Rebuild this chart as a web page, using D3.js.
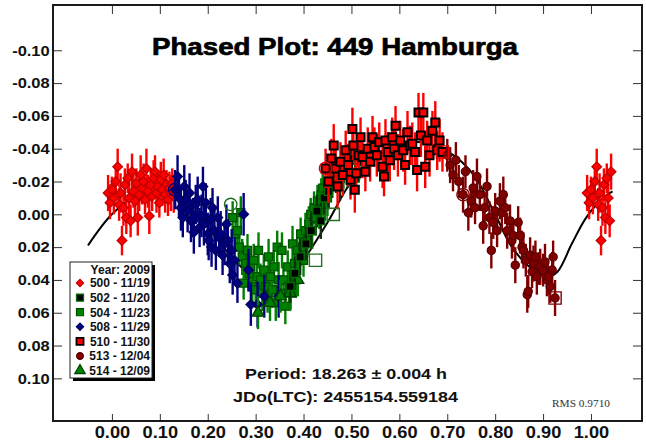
<!DOCTYPE html>
<html><head><meta charset="utf-8">
<script src="https://cdn.jsdelivr.net/npm/d3@7/dist/d3.min.js"></script>
<style>
body{margin:0;background:#fff}
svg{display:block}
text{font-family:"Liberation Sans",Arial,sans-serif}
</style>
</head><body>
<svg id="c" width="646" height="445"></svg>
<script>
// ---------- data ----------
const titleText = "Phased Plot: 449 Hamburga";
const periodText = "Period: 18.263 \u00B1 0.004 h";
const epochText = "JDo(LTC): 2455154.559184";
const rmsText = "RMS 0.9710";
const legendTitle = "Year: 2009";

const xTicks = [0.0,0.1,0.2,0.3,0.4,0.5,0.6,0.7,0.8,0.9,1.0];
const xTickLabels = ["0.00","0.10","0.20","0.30","0.40","0.50","0.60","0.70","0.80","0.90","1.00"];
const yTicks = [-0.10,-0.08,-0.06,-0.04,-0.02,0.00,0.02,0.04,0.06,0.08,0.10];
const yTickLabels = ["-0.10","-0.08","-0.06","-0.04","-0.02","0.00","0.02","0.04","0.06","0.08","0.10"];

const sessionKeys = ["500","502","504","508","510","513","514"];
const sessionLabels = ["500 - 11/19","502 - 11/20","504 - 11/23","508 - 11/29","510 - 11/30","513 - 12/04","514 - 12/09"];

// session 500 (11/19)
const s500Phase = [-0.008,-0.004,0.000,0.004,0.008,0.012,0.015,0.018,0.021,0.024,0.027,0.030,0.033,0.036,0.039,0.042,0.045,0.048,0.051,0.054,0.057,0.060,0.063,0.066,0.069,0.072,0.075,0.078,0.081,0.084,0.087,0.090,0.093,0.096,0.099,0.102,0.105,0.108,0.111,0.114,0.117,0.120,0.123,0.126,0.129];
const s500Mag   = [-0.013,-0.007,-0.015,-0.010,-0.020,-0.029,-0.006,-0.013,0.016,-0.004,-0.018,0.002,-0.022,-0.010,0.004,-0.026,-0.014,-0.008,-0.019,0.002,-0.012,-0.024,-0.016,-0.020,-0.009,-0.028,-0.014,0.001,-0.018,-0.011,-0.022,-0.026,-0.013,-0.017,-0.007,-0.021,-0.015,-0.024,-0.012,-0.018,-0.009,-0.016,-0.013,-0.019,-0.011];
const s500Err   = [0.011,0.010,0.008,0.010,0.009,0.011,0.010,0.012,0.009,0.011,0.010,0.010,0.009,0.012,0.010,0.011,0.010,0.012,0.009,0.011,0.010,0.012,0.010,0.011,0.009,0.012,0.010,0.011,0.010,0.009,0.011,0.010,0.012,0.010,0.009,0.011,0.010,0.010,0.011,0.009,0.010,0.010,0.011,0.009,0.010];

// session 502 (11/20)
const s502Phase = [0.372,0.382,0.393,0.405,0.416,0.428,0.436,0.443,0.452,0.460,0.468,0.476,0.484,0.492,0.500,0.508,0.516];
const s502Mag   = [0.044,0.036,0.026,0.018,0.010,-0.002,0.004,-0.010,-0.014,-0.020,-0.024,-0.018,-0.030,-0.026,-0.034,-0.022,-0.032];
const s502Err   = [0.010,0.010,0.011,0.010,0.011,0.010,0.011,0.010,0.011,0.010,0.011,0.010,0.011,0.010,0.011,0.010,0.011];

// session 504 (11/23)
const s504Phase = [0.252,0.258,0.262,0.266,0.269,0.272,0.275,0.279,0.283,0.287,0.290,0.293,0.296,0.300,0.303,0.306,0.310,0.314,0.317,0.321,0.325,0.327,0.331,0.335,0.338,0.342,0.345,0.348,0.352,0.355,0.358,0.362,0.367,0.370,0.373,0.377,0.381,0.384,0.387,0.391,0.394,0.398,0.400,0.404,0.408,0.411,0.415,0.418,0.422,0.425,0.429,0.433,0.437,0.440,0.445,0.450,0.455];
const s504Mag   = [0.002,0.012,0.010,0.020,-0.001,0.026,0.042,0.030,0.022,0.036,0.032,0.044,0.028,0.046,0.038,0.022,0.040,0.048,0.034,0.044,0.050,0.026,0.038,0.046,0.032,0.054,0.020,0.040,0.048,0.022,0.040,0.056,0.032,0.044,0.048,0.018,0.030,0.040,0.022,0.028,0.012,0.020,0.028,0.010,0.016,0.006,0.000,0.010,-0.004,0.002,-0.008,-0.002,-0.012,-0.016,-0.006,-0.010,-0.020];
const s504Err   = [0.010,0.011,0.010,0.011,0.010,0.011,0.010,0.011,0.010,0.011,0.010,0.011,0.010,0.011,0.010,0.011,0.010,0.011,0.010,0.011,0.010,0.011,0.010,0.011,0.010,0.011,0.010,0.011,0.010,0.011,0.010,0.011,0.010,0.011,0.010,0.011,0.010,0.011,0.010,0.011,0.010,0.011,0.010,0.011,0.010,0.011,0.010,0.011,0.010,0.011,0.010,0.011,0.010,0.011,0.010,0.011,0.010];

// session 508 (11/29)
const s508Phase = [0.132,0.137,0.140,0.144,0.148,0.151,0.154,0.158,0.162,0.165,0.169,0.171,0.175,0.179,0.183,0.187,0.190,0.192,0.196,0.200,0.202,0.206,0.208,0.210,0.214,0.217,0.221,0.224,0.227,0.231,0.235,0.239,0.242,0.246,0.250,0.252,0.256,0.262,0.275,0.285,0.290,0.304,0.318,0.348];
const s508Mag   = [-0.015,-0.023,-0.010,-0.004,0.002,-0.017,-0.009,-0.002,-0.013,0.004,0.002,0.011,-0.006,-0.009,0.008,0.001,-0.017,0.006,-0.007,0.012,0.016,0.003,0.020,-0.004,0.010,0.022,0.002,0.014,0.012,0.025,0.018,0.006,0.016,0.030,0.022,0.037,0.028,0.042,0.000,0.034,0.055,0.055,0.050,0.050];
const s508Err   = [0.012,0.013,0.012,0.014,0.012,0.013,0.012,0.013,0.012,0.013,0.012,0.013,0.012,0.014,0.012,0.013,0.012,0.013,0.012,0.013,0.012,0.013,0.012,0.012,0.013,0.012,0.013,0.012,0.014,0.012,0.013,0.012,0.013,0.012,0.013,0.012,0.014,0.012,0.013,0.013,0.013,0.014,0.013,0.013];

// session 510 (11/30)
const s510Phase = [0.446,0.452,0.458,0.463,0.467,0.471,0.477,0.482,0.488,0.493,0.498,0.502,0.504,0.507,0.510,0.515,0.519,0.523,0.529,0.534,0.539,0.544,0.548,0.553,0.558,0.565,0.568,0.571,0.576,0.580,0.585,0.589,0.592,0.597,0.602,0.608,0.612,0.617,0.622,0.627,0.633,0.637,0.640,0.645,0.650,0.654,0.658,0.663,0.669,0.675,0.679,0.684,0.690];
const s510Mag   = [-0.028,-0.020,-0.034,-0.042,-0.028,-0.017,-0.032,-0.024,-0.039,-0.030,-0.021,-0.052,-0.042,-0.015,-0.025,-0.036,-0.047,-0.035,-0.026,-0.040,-0.032,-0.047,-0.041,-0.036,-0.044,-0.029,-0.023,-0.045,-0.038,-0.033,-0.047,-0.040,-0.054,-0.036,-0.045,-0.039,-0.030,-0.050,-0.042,-0.043,-0.038,-0.027,-0.062,-0.048,-0.062,-0.029,-0.045,-0.036,-0.051,-0.056,-0.039,-0.045,-0.038];
const s510Err   = [0.012,0.013,0.012,0.013,0.012,0.014,0.012,0.013,0.012,0.013,0.012,0.013,0.012,0.014,0.012,0.013,0.012,0.013,0.012,0.013,0.012,0.013,0.012,0.013,0.012,0.013,0.012,0.013,0.012,0.013,0.012,0.013,0.012,0.013,0.012,0.013,0.012,0.013,0.012,0.013,0.012,0.013,0.012,0.013,0.012,0.013,0.012,0.013,0.012,0.013,0.012,0.013,0.012];

// session 513 (12/04)
const s513Phase = [0.700,0.706,0.712,0.718,0.724,0.733,0.738,0.744,0.750,0.754,0.758,0.762,0.768,0.775,0.778,0.783,0.788,0.792,0.796,0.800,0.804,0.810,0.814,0.817,0.821,0.825,0.831,0.835,0.838,0.842,0.848,0.852,0.856,0.859,0.864,0.867,0.869,0.873,0.877,0.880,0.884,0.887,0.891,0.894,0.900,0.904,0.908,0.910,0.915,0.919,0.921,0.925];
const s513Mag   = [-0.036,-0.030,-0.024,-0.033,-0.020,-0.012,-0.026,-0.001,-0.008,-0.016,-0.004,-0.023,-0.012,0.007,-0.004,-0.017,0.002,0.022,0.005,-0.002,0.010,-0.008,-0.001,-0.012,-0.004,0.010,0.004,0.016,0.013,0.031,0.005,0.013,0.020,0.022,0.028,0.049,0.047,0.025,0.035,0.030,0.026,0.038,0.033,0.032,0.034,0.029,0.040,0.038,0.044,0.034,0.026,0.051];
const s513Err   = [0.010,0.011,0.010,0.011,0.010,0.011,0.010,0.011,0.010,0.011,0.010,0.011,0.010,0.011,0.010,0.011,0.010,0.011,0.010,0.011,0.010,0.011,0.010,0.011,0.010,0.011,0.010,0.011,0.010,0.011,0.010,0.011,0.010,0.011,0.010,0.011,0.010,0.011,0.010,0.011,0.010,0.011,0.010,0.011,0.010,0.011,0.010,0.011,0.010,0.011,0.010,0.011];

// session 514 (12/09)
const s514Phase = [0.305,0.330,0.352,0.372,0.388];
const s514Mag   = [0.060,0.054,0.050,0.048,0.040];
const s514Err   = [0.010,0.011,0.010,0.011,0.010];

// open markers (session start = circle, end = square)
const openPhase = [0.004,0.131,0.248,0.446,0.425,0.462,0.690,0.733,0.925];
const openMag   = [-0.015,-0.015,-0.006,-0.028,0.028,0.000,-0.038,-0.012,0.051];
const openKey   = ["500","508","504","510","504","502","510","513","513"];
const openShape = ["circle","circle","circle","circle","square","square","square","circle","square"];

// Fourier fit curve
const fitPhase = [-0.05,0.0,0.05,0.10,0.15,0.20,0.25,0.30,0.33,0.37,0.40,0.45,0.50,0.55,0.60,0.65,0.69,0.73,0.76,0.80,0.835,0.88,0.91,0.93,0.96,0.99,1.025,1.045];
const fitMag   = [0.019,0.000,-0.011,-0.013,-0.008,0.008,0.026,0.040,0.045,0.040,0.028,0.005,-0.020,-0.035,-0.042,-0.044,-0.040,-0.032,-0.022,0.000,0.020,0.034,0.038,0.035,0.018,0.002,-0.010,-0.014];

// ---------- styles ----------
const style = {
  "500": {shape:"diamond",  fill:"#ff0000", stroke:"#c00000", bar:"#ff0000", sw:1.3},
  "502": {shape:"square",   fill:"#000000", stroke:"#007000", bar:"#103010", sw:1.3},
  "504": {shape:"square",   fill:"#008000", stroke:"#005000", bar:"#008000", sw:1.3},
  "508": {shape:"diamond",  fill:"#000080", stroke:"#000060", bar:"#000080", sw:1.3},
  "510": {shape:"square",   fill:"#ff0000", stroke:"#000000", bar:"#ff0000", sw:2},
  "513": {shape:"circle",   fill:"#800000", stroke:"#5a0000", bar:"#800000", sw:1.3},
  "514": {shape:"triangle", fill:"#008000", stroke:"#004000", bar:"#008000", sw:1.3}
};
const seriesData = {
  "500": [s500Phase,s500Mag,s500Err],
  "502": [s502Phase,s502Mag,s502Err],
  "504": [s504Phase,s504Mag,s504Err],
  "508": [s508Phase,s508Mag,s508Err],
  "510": [s510Phase,s510Mag,s510Err],
  "513": [s513Phase,s513Mag,s513Err],
  "514": [s514Phase,s514Mag,s514Err]
};
const drawOrder = ["500","504","508","514","502","510","513"];

// ---------- layout ----------
const L = 53, R = 642, T = 5, B = 421;
const svg = d3.select("#c");
const x = d3.scaleLinear().domain([-0.123, 1.1065]).range([L, R]);
const y = d3.scaleLinear().domain([-0.1276, 0.126]).range([T, B]);

function symbolPath(shape){
  if (shape === "diamond") return d3.symbol(d3.symbolSquare, 46)();
  if (shape === "square") return d3.symbol(d3.symbolSquare, 64)();
  if (shape === "circle") return d3.symbol(d3.symbolCircle, 52)();
  return d3.symbol(d3.symbolTriangle, 62)();
}

svg.append("clipPath").attr("id","pc").append("rect")
  .attr("x",L).attr("y",T).attr("width",R-L).attr("height",B-T);
const plot = svg.append("g").attr("clip-path","url(#pc)");

// fit curve
plot.append("path")
  .datum(fitPhase.map((p,i)=>[p,fitMag[i]]))
  .attr("fill","none").attr("stroke","#000").attr("stroke-width",2)
  .attr("d", d3.line().x(d=>x(d[0])).y(d=>y(d[1])).curve(d3.curveCatmullRom));

drawOrder.forEach(key=>{
  const [ph, mg, er] = seriesData[key];
  const st = style[key];
  let pts = ph.map((p,i)=>({p, m:mg[i], e:er[i]}));
  if (key === "500") {
    pts = pts.concat(pts.filter(d=>d.p < 0.045).map(d=>({p:d.p+1, m:d.m, e:d.e})));
  }
  const g = plot.append("g");
  g.selectAll("line").data(pts).join("line")
    .attr("x1",d=>x(d.p)).attr("x2",d=>x(d.p))
    .attr("y1",d=>y(d.m-d.e)).attr("y2",d=>y(d.m+d.e))
    .attr("stroke",st.bar).attr("stroke-width",2.4);
  g.selectAll("path").data(pts).join("path")
    .attr("d", symbolPath(st.shape))
    .attr("transform",d=>`translate(${x(d.p)},${y(d.m)})` + (st.shape==="diamond"?" rotate(45)":""))
    .attr("fill",st.fill).attr("stroke",st.stroke).attr("stroke-width",st.sw);
});

// open markers
plot.append("g").selectAll("path").data(openPhase.map((p,i)=>({p,m:openMag[i],k:openKey[i],s:openShape[i]})))
  .join("path")
  .attr("d", d=> d.s==="circle" ? d3.symbol(d3.symbolCircle, 120)() : d3.symbol(d3.symbolSquare, 150)())
  .attr("transform",d=>`translate(${x(d.p)},${y(d.m)})`)
  .attr("fill","none")
  .attr("stroke",d=> d.k==="510" || d.k==="500" ? "#e00000" : (d.k==="502"||d.k==="504" ? "#207020" : style[d.k].fill))
  .attr("stroke-width",1.4);

// axes (inward ticks)
const axisColor = "#333";
const gl = svg.append("g").attr("transform",`translate(${L},0)`)
  .call(d3.axisLeft(y).tickValues(yTicks).tickFormat((d,i)=>yTickLabels[i]).tickSize(-9).tickPadding(3));
gl.select(".domain").remove();
gl.selectAll("line").attr("stroke",axisColor);
gl.selectAll("text").attr("font-size",15).attr("font-weight","bold").attr("fill","#111")
  .attr("font-family","Liberation Sans, Arial, sans-serif")
  .attr("transform","scale(1.1,1)");

const gr = svg.append("g").attr("transform",`translate(${R},0)`)
  .call(d3.axisRight(y).tickValues(yTicks).tickFormat("").tickSize(-9));
gr.select(".domain").remove();
gr.selectAll("line").attr("stroke",axisColor);

const gb = svg.append("g").attr("transform",`translate(0,${B})`)
  .call(d3.axisBottom(x).tickValues(xTicks).tickFormat((d,i)=>xTickLabels[i]).tickSize(-7).tickPadding(6));
gb.select(".domain").remove();
gb.selectAll("line").attr("stroke",axisColor);
gb.selectAll("text").attr("font-size",16).attr("font-weight","bold").attr("fill","#111")
  .attr("font-family","Liberation Sans, Arial, sans-serif")
  .attr("transform","scale(1.14,1)");

const gt = svg.append("g").attr("transform",`translate(0,${T})`)
  .call(d3.axisTop(x).tickValues(xTicks).tickFormat("").tickSize(-9));
gt.select(".domain").remove();
gt.selectAll("line").attr("stroke",axisColor);

// frame
svg.append("rect").attr("x",L).attr("y",T).attr("width",R-L).attr("height",B-T)
  .attr("fill","none").attr("stroke","#1a1a1a").attr("stroke-width",2);

// title and annotations
svg.append("text").attr("x",335).attr("y",54.5).attr("text-anchor","middle")
  .attr("font-size",24).attr("font-weight","bold").attr("fill","#000")
  .attr("stroke","#000").attr("stroke-width",0.7)
  .attr("textLength",366).attr("lengthAdjust","spacingAndGlyphs").text(titleText);
svg.append("text").attr("x",346).attr("y",379).attr("text-anchor","middle")
  .attr("font-size",15.5).attr("font-weight","bold").attr("fill","#111")
  .attr("textLength",202).attr("lengthAdjust","spacingAndGlyphs").text(periodText);
svg.append("text").attr("x",345.5).attr("y",402).attr("text-anchor","middle")
  .attr("font-size",15.5).attr("font-weight","bold").attr("fill","#111")
  .attr("textLength",225).attr("lengthAdjust","spacingAndGlyphs").text(epochText);
svg.append("text").attr("x",552).attr("y",407)
  .style("font-family","'Liberation Serif','Times New Roman',serif")
  .attr("font-size",10.5).attr("fill","#333")
  .attr("textLength",58).attr("lengthAdjust","spacingAndGlyphs").text(rmsText);

// legend
const lg = svg.append("g");
const lx = 70, ly = 262, lw = 82, lh = 116;
lg.append("rect").attr("x",lx+3).attr("y",ly+3).attr("width",lw).attr("height",lh).attr("fill","#000");
lg.append("rect").attr("x",lx).attr("y",ly).attr("width",lw).attr("height",lh)
  .attr("fill","#fff").attr("stroke","#222").attr("stroke-width",1);
lg.append("text").attr("x",lx+lw-2).attr("y",ly+11.5).attr("text-anchor","end")
  .attr("font-size",12).attr("font-weight","bold").attr("fill","#111").text(legendTitle);
sessionKeys.forEach((k,i)=>{
  const cy = ly + 21 + i*14.6;
  const st = style[k];
  const sz = st.shape==="diamond" ? 26 : (st.shape==="square" ? 50 : (st.shape==="circle" ? 36 : 48));
  lg.append("path").attr("d", d3.symbol(st.shape==="circle"?d3.symbolCircle:(st.shape==="triangle"?d3.symbolTriangle:d3.symbolSquare), sz)())
    .attr("transform",`translate(${lx+10},${cy})` + (st.shape==="diamond"?" rotate(45)":""))
    .attr("fill",st.fill).attr("stroke",st.stroke).attr("stroke-width",k==="510"?1.8:1.2);
  lg.append("text").attr("x",lx+lw-2).attr("y",cy+4.3).attr("text-anchor","end")
    .attr("font-size",12).attr("font-weight","bold").attr("fill","#111").text(sessionLabels[i]);
});
</script>
</body></html>
